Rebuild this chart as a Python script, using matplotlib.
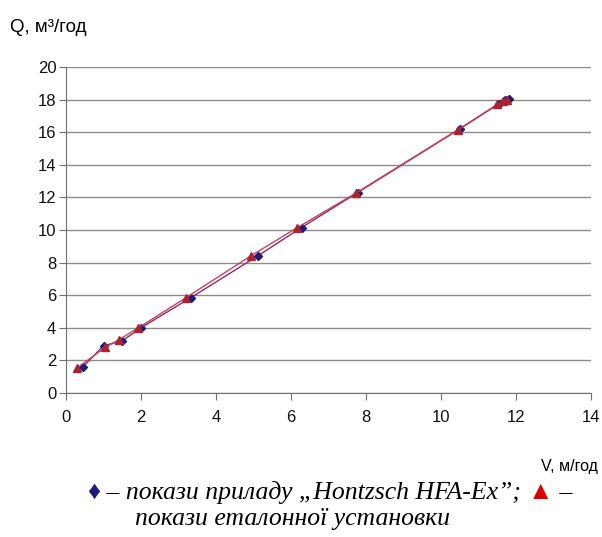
import matplotlib
matplotlib.use("Agg")
import matplotlib.pyplot as plt

# Показання приладу Hontzsch HFA-Ex
v_device = [0.45, 1.0, 1.5, 2.0, 3.33, 5.12, 6.28, 7.78, 10.5, 11.55, 11.7, 11.8]
q_device = [1.6, 2.9, 3.2, 4.0, 5.85, 8.42, 10.15, 12.3, 16.2, 17.75, 17.95, 18.05]

# Показання еталонної установки
v_ref = [0.3, 1.05, 1.4, 1.93, 3.2, 4.92, 6.17, 7.72, 10.45, 11.5, 11.65, 11.75]
q_ref = [1.55, 2.8, 3.25, 4.0, 5.85, 8.4, 10.15, 12.25, 16.15, 17.7, 17.9, 18.0]

x_ticks = list(range(0, 15, 2))
y_ticks = list(range(0, 21, 2))

W, H = 602, 537
fig = plt.figure(figsize=(W / 100, H / 100), dpi=100)
ax = fig.add_axes([66 / W, 1 - 393 / H, (591 - 66) / W, (393 - 67) / H])

ax.plot(v_device, q_device, color="#8a2a6a", lw=1.0, marker="D", ms=4.5,
        mfc="#1c1c7c", mec="#1c1c7c", zorder=3)
ax.plot(v_ref, q_ref, color="#c8405a", lw=1.0, marker="^", ms=5.5,
        mfc="#a82430", mec="#a82430", zorder=4)

ax.set_xlim(0, 14)
ax.set_ylim(0, 20)
ax.set_xticks(x_ticks)
ax.set_yticks(y_ticks)
ax.yaxis.grid(True, color="#8c8c8c", lw=1.0)
ax.set_axisbelow(True)
for s in ["top", "right"]:
    ax.spines[s].set_visible(False)
for s in ["left", "bottom"]:
    ax.spines[s].set_color("#707070")
ax.tick_params(colors="#707070", labelcolor="#111111", direction="out", length=5,
               labelsize=12)
ax.tick_params(axis="x", pad=7)
ax.tick_params(axis="y", pad=2)
for lab in ax.get_xticklabels() + ax.get_yticklabels():
    lab.set_family("Liberation Sans")

fig.text(10 / W, 1 - 27 / H, "Q, м³/год", fontsize=13.5, family="Liberation Sans",
         va="center", ha="left")
fig.text(598 / W, 1 - 466 / H, "V, м/год", fontsize=11.5, family="Liberation Sans",
         va="center", ha="right")

# Підпис під графіком: різнокольорові маркери всередині рядка
serif = ["Liberation Serif", "DejaVu Serif"]
fig.canvas.draw()
renderer = fig.canvas.get_renderer()
parts = [("\u2666", "#1c1c7c", "normal"),
         (" – покази приладу „Hontzsch HFA-Ex”; ", "black", "italic"),
         ("\u25b2", "#e00000", "normal"),
         (" –", "black", "italic")]
x = 87
for txt, col, style in parts:
    t = fig.text(x / W, 1 - 493 / H, txt, fontsize=18.5, family=serif,
                 style=style, color=col, va="center", ha="left")
    bb = t.get_window_extent(renderer)
    x += bb.width
fig.text(135 / W, 1 - 519 / H, "покази еталонної установки", fontsize=18.5,
         family=serif, style="italic", va="center", ha="left")

fig.savefig("out.png", dpi=100)
